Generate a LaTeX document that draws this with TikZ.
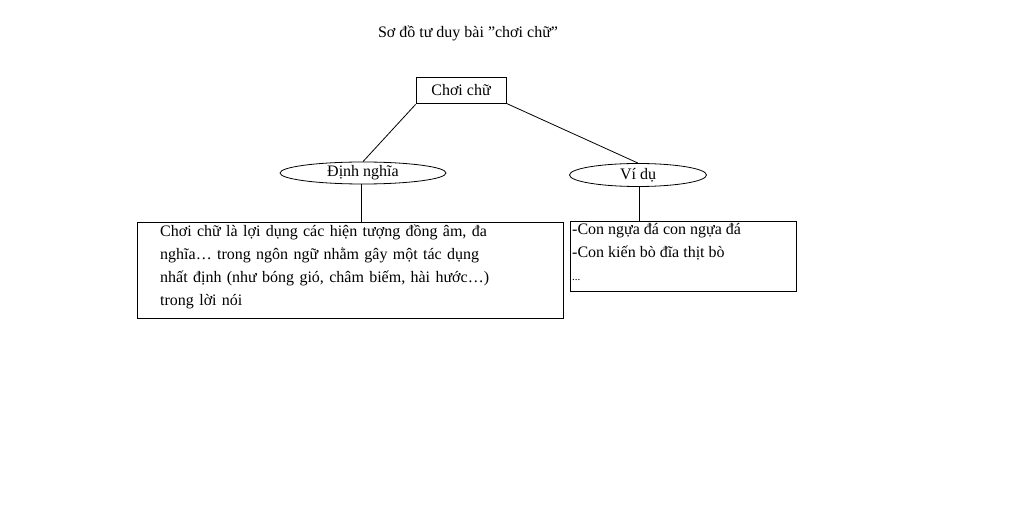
\documentclass[tikz,border=0pt]{standalone}
\usepackage{fontspec}
\setmainfont{Liberation Serif}
\usetikzlibrary{shapes.geometric}
\begin{document}
\begin{tikzpicture}[x=1pt,y=-1pt,
  txt/.style={font=\fontsize{16}{23}\selectfont},
  boxr/.style={draw,line width=0.8pt,inner sep=0pt},
  ell/.style={draw,ellipse,line width=0.8pt,inner sep=0pt,txt},
  ln/.style={line width=0.8pt}]
\useasboundingbox (0,0) rectangle (1024,518);
\node[txt] (title) at (468,33) {Sơ đồ tư duy bài "chơi chữ"};
\node[boxr,minimum width=90,minimum height=26,txt] (root) at (461,90) {Chơi chữ};
\node[ell,minimum width=166,minimum height=22] (def) at (363,173) {Định nghĩa};
\node[ell,minimum width=137,minimum height=23] (ex) at (638,175) {Ví dụ};
\node[boxr,minimum width=426,minimum height=96] (defbox) at (350,270) {};
\node[boxr,minimum width=226,minimum height=70] (exbox) at (683,256) {};
\node[txt,anchor=north west,align=left,text width=400,inner sep=0pt] (deft) at (160,225)
 {Chơi chữ là lợi dụng các hiện tượng đồng âm, đa\\ nghĩa… trong ngôn ngữ nhằm gây một tác dụng\\ nhất định (như bóng gió, châm biếm, hài hước…)\\ trong lời nói};
\node[txt,anchor=north west,align=left,inner sep=0pt] (ext) at (572,223)
 {-Con ngựa đá con ngựa đá\\ -Con kiến bò đĩa thịt bò\\ {\fontsize{11}{11}\selectfont ...}};
\draw[ln] (root.south west) ++(0,1) -- (def.north) ++(-3,0);
\draw[ln] (root.south east) -- (ex.north) ;
\draw[ln] (def.south -| 361,0) -- (defbox.north -| 361,0);
\draw[ln] (ex.south -| 639,0) -- (exbox.north -| 639,0);
\end{tikzpicture}
\end{document}
